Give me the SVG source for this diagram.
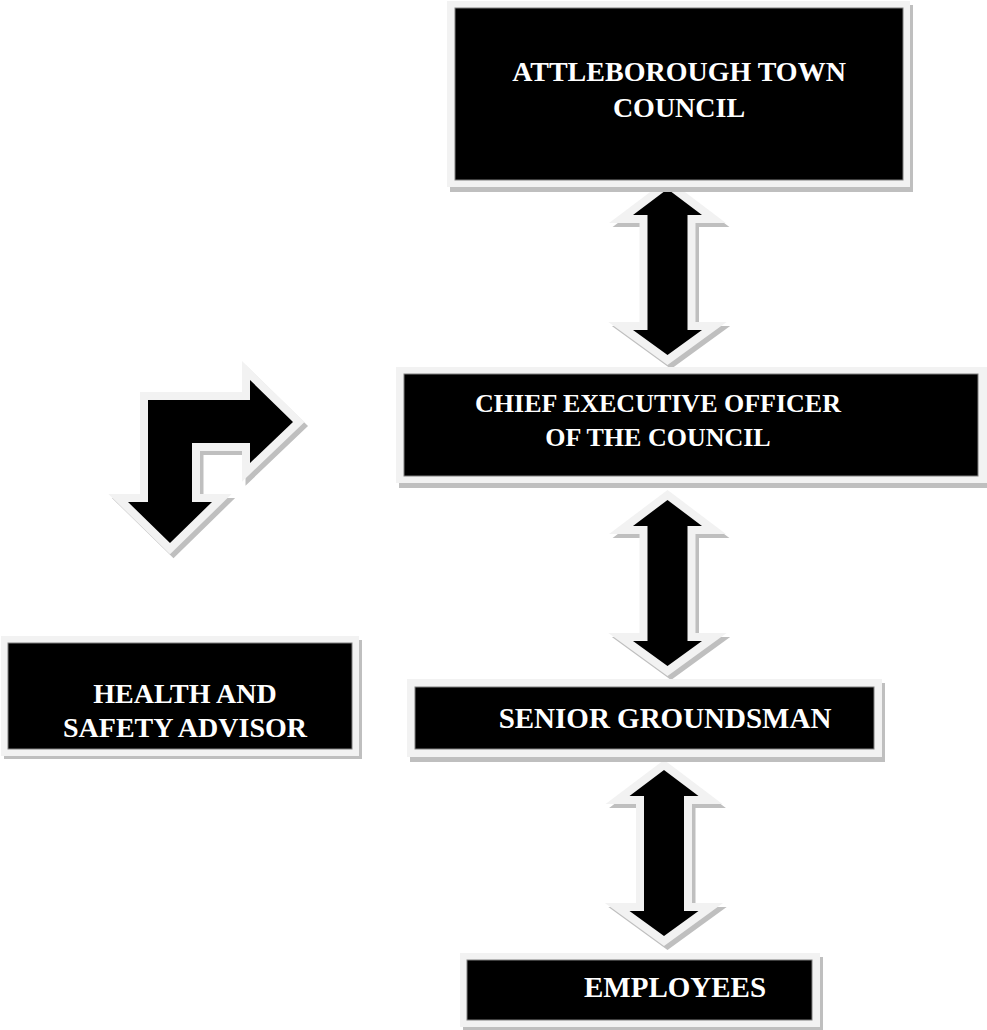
<svg xmlns="http://www.w3.org/2000/svg" xmlns:xlink="http://www.w3.org/1999/xlink" width="987" height="1030" viewBox="0 0 987 1030">
<style>
.frame{fill:#f2f2f2}
.shadow{fill:#bfbfbf}
.box{fill:#000;stroke:#7f7f7f;stroke-width:1}
.lbl{font-family:"Liberation Serif","Times New Roman",serif;font-weight:bold;fill:#fff;text-anchor:middle}
.arr{fill:#000;stroke:#f2f2f2;stroke-width:16;stroke-linejoin:miter;paint-order:stroke}
.arrsh{fill:#bfbfbf;stroke:#bfbfbf;stroke-width:16;stroke-linejoin:miter}
</style>
<defs>
<polygon id="dbl" points="0,0 34.5,26 20,26 20,141 34.5,141 0,166 -34.5,141 -20,141 -20,26 -34.5,26"/>
<polygon id="bent" points="148,400 250,400 250,380 293,422 250,463 250,443 192,443 192,502 212,502 170,543 128,502 148,502"/>
</defs>
<rect width="987" height="1030" fill="#fff"/>
<g id="connectors">
<use href="#dbl" class="arrsh" transform="translate(671,193)"/>
<use href="#dbl" class="arr" transform="translate(667.5,189)"/>
<use href="#dbl" class="arrsh" transform="translate(671,504)"/>
<use href="#dbl" class="arr" transform="translate(667.5,500)"/>
<use href="#dbl" class="arrsh" transform="translate(667.5,774)"/>
<use href="#dbl" class="arr" transform="translate(664,770)"/>
<use href="#bent" class="arrsh" transform="translate(3.5,4)"/>
<use href="#bent" class="arr"/>
</g>
<g id="council">
<rect class="shadow" x="450" y="5" width="463" height="187"/>
<rect class="frame" x="447" y="1" width="463" height="186"/>
<rect class="box" x="455" y="8" width="448" height="172"/>
<text class="lbl" font-size="28" x="679" y="81">ATTLEBOROUGH TOWN</text>
<text class="lbl" font-size="28" x="679" y="117">COUNCIL</text>
</g>
<g id="ceo">
<rect class="shadow" x="399" y="371" width="592" height="117"/>
<rect class="frame" x="396" y="367" width="592" height="116"/>
<rect class="box" x="404" y="374" width="574" height="102"/>
<text class="lbl" font-size="26" x="658" y="412">CHIEF EXECUTIVE OFFICER</text>
<text class="lbl" font-size="26" x="658" y="446">OF THE COUNCIL</text>
</g>
<g id="health">
<rect class="shadow" x="4" y="640" width="358" height="119"/>
<rect class="frame" x="1" y="636" width="358" height="120"/>
<rect class="box" x="8" y="643" width="344" height="106"/>
<text class="lbl" font-size="28" x="185" y="703">HEALTH AND</text>
<text class="lbl" font-size="28" x="185" y="737">SAFETY ADVISOR</text>
</g>
<g id="senior">
<rect class="shadow" x="410" y="683" width="475" height="79"/>
<rect class="frame" x="407" y="679" width="475" height="78"/>
<rect class="box" x="415" y="687" width="459" height="62"/>
<text class="lbl" font-size="29" x="665" y="728">SENIOR GROUNDSMAN</text>
</g>
<g id="employees">
<rect class="shadow" x="463" y="957" width="360" height="75"/>
<rect class="frame" x="460" y="953" width="360" height="74"/>
<rect class="box" x="467" y="960" width="345" height="60"/>
<text class="lbl" font-size="29" x="675" y="997">EMPLOYEES</text>
</g>
</svg>
